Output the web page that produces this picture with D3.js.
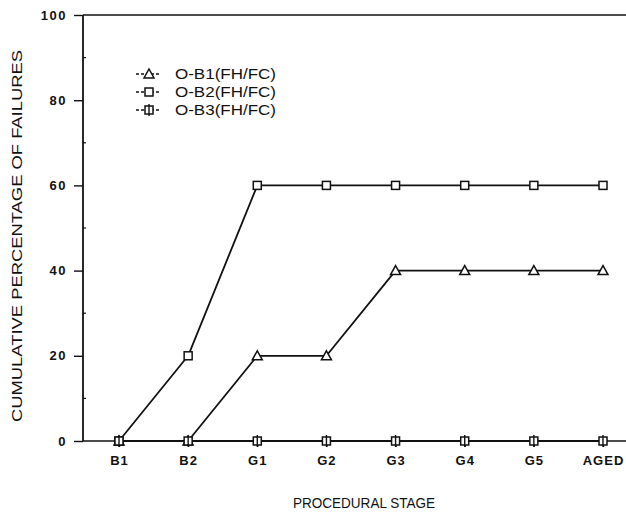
<!DOCTYPE html>
<html>
<head>
<meta charset="utf-8">
<script src="https://cdn.jsdelivr.net/npm/d3@7"></script>
<style>
  body { margin: 0; background: #fff; }
  svg { display: block; }
  text { font-family: "Liberation Sans", Arial, sans-serif; fill: #111; }
</style>
</head>
<body>
<svg id="chart" width="626" height="512"></svg>
<script>
// procedural stages along the x axis
const stages = ['B1', 'B2', 'G1', 'G2', 'G3', 'G4', 'G5', 'AGED'];
// cumulative percentage of failures per stage
const ob1 = [0, 0, 20, 20, 40, 40, 40, 40];
const ob2 = [0, 20, 60, 60, 60, 60, 60, 60];
const ob3 = [0, 0, 0, 0, 0, 0, 0, 0];
const yTicks = [0, 20, 40, 60, 80, 100];
const yMinor = [10, 30, 50, 70, 90];

const series = [
  { name: 'O-B1(FH/FC)', values: ob1, shape: 'tri' },
  { name: 'O-B2(FH/FC)', values: ob2, shape: 'sq' },
  { name: 'O-B3(FH/FC)', values: ob3, shape: 'sqx' }
];

const svg = d3.select('#chart');
const plotL = 83, plotR = 626, plotT = 15, plotB = 441;

const x = d3.scalePoint().domain(stages).range([119, 603]);
const y = d3.scaleLinear().domain([0, 100]).range([plotB, plotT]);

// frame: left axis, top line, bottom axis
svg.append('line').attr('x1', plotL).attr('x2', plotL).attr('y1', plotT).attr('y2', plotB)
  .attr('stroke', '#111').attr('stroke-width', 1.8);
svg.append('line').attr('x1', plotL).attr('x2', plotR).attr('y1', plotT).attr('y2', plotT)
  .attr('stroke', '#111').attr('stroke-width', 1.5);
svg.append('line').attr('x1', plotL).attr('x2', plotR).attr('y1', plotB).attr('y2', plotB)
  .attr('stroke', '#111').attr('stroke-width', 1.5);

// y axis ticks
const yAxis = svg.append('g').attr('transform', `translate(${plotL},0)`)
  .call(d3.axisLeft(y).tickValues(yTicks).tickSize(9).tickPadding(7));
yAxis.select('.domain').remove();
yAxis.selectAll('line').attr('stroke', '#111').attr('stroke-width', 1.4);
yAxis.selectAll('text').attr('font-size', 13).attr('font-weight', 'bold')
  .attr('letter-spacing', 1.5).attr('fill', '#1a1a1a');

svg.append('g').selectAll('line').data(yMinor).join('line')
  .attr('x1', plotL).attr('x2', plotL + 3)
  .attr('y1', d => y(d)).attr('y2', d => y(d))
  .attr('stroke', '#111').attr('stroke-width', 1.2);

// x axis ticks and labels
const xAxis = svg.append('g').attr('transform', `translate(0,${plotB})`)
  .call(d3.axisBottom(x).tickSize(6).tickPadding(9));
xAxis.select('.domain').remove();
xAxis.selectAll('line').attr('stroke', '#111').attr('stroke-width', 1.3);
xAxis.selectAll('text').attr('font-size', 13).attr('font-weight', 'bold')
  .attr('letter-spacing', 1).attr('fill', '#1a1a1a');

// axis titles
svg.append('text')
  .attr('transform', `translate(22,${(plotT + plotB) / 2 + 8}) rotate(-90)`)
  .attr('text-anchor', 'middle').attr('font-size', 15)
  .attr('textLength', 372).attr('lengthAdjust', 'spacingAndGlyphs')
  .text('CUMULATIVE PERCENTAGE OF FAILURES');
svg.append('text')
  .attr('x', 364).attr('y', 508)
  .attr('text-anchor', 'middle').attr('font-size', 15)
  .attr('textLength', 142).attr('lengthAdjust', 'spacingAndGlyphs')
  .text('PROCEDURAL STAGE');

function marker(g, shape, cx, cy) {
  if (shape === 'tri') {
    g.append('path')
      .attr('d', `M${cx},${cy - 5}L${cx + 5},${cy + 4}L${cx - 5},${cy + 4}Z`)
      .attr('fill', '#fff').attr('stroke', '#111').attr('stroke-width', 1.5);
  } else {
    g.append('rect').attr('x', cx - 4).attr('y', cy - 4).attr('width', 8).attr('height', 8)
      .attr('fill', '#fff').attr('stroke', '#111').attr('stroke-width', 1.5);
    if (shape === 'sqx') {
      g.append('line').attr('x1', cx).attr('x2', cx).attr('y1', cy - 6).attr('y2', cy + 6)
        .attr('stroke', '#111').attr('stroke-width', 1.4);
    }
  }
}

const line = d3.line()
  .x((d, i) => x(stages[i]))
  .y(d => y(d));

const plot = svg.append('g');
series.forEach(s => {
  plot.append('path').datum(s.values)
    .attr('d', line).attr('fill', 'none')
    .attr('stroke', '#111').attr('stroke-width', 1.8)
    .attr('stroke-linejoin', 'round');
});
series.forEach(s => {
  s.values.forEach((v, i) => marker(plot, s.shape, x(stages[i]), y(v)));
});

// legend
const legend = svg.append('g');
series.forEach((s, i) => {
  const ly = 74 + i * 18;
  legend.append('line').attr('x1', 136).attr('x2', 160).attr('y1', ly).attr('y2', ly)
    .attr('stroke', '#111').attr('stroke-width', 1.4).attr('stroke-dasharray', '3,2');
  marker(legend, s.shape, 149, ly);
  legend.append('text').attr('x', 175).attr('y', ly + 5)
    .attr('font-size', 14)
    .attr('textLength', 101).attr('lengthAdjust', 'spacingAndGlyphs')
    .text(s.name);
});
</script>
</body>
</html>
